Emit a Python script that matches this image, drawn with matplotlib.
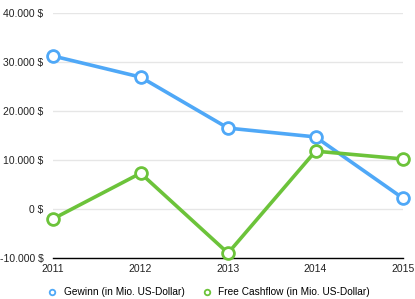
import matplotlib
matplotlib.use("Agg")
import matplotlib.pyplot as plt
from matplotlib.ticker import FuncFormatter
from matplotlib.lines import Line2D

years = [2011, 2012, 2013, 2014, 2015]
gewinn = [31200, 26900, 16500, 14700, 2200]
cashflow = [-2000, 7300, -9000, 11800, 10200]
series_names = ["Gewinn (in Mio. US-Dollar)", "Free Cashflow (in Mio. US-Dollar)"]
blue = "#4fa8f7"
green = "#6cc33a"

plt.rcParams['font.family'] = ['Liberation Sans', 'DejaVu Sans']

fig = plt.figure(figsize=(4.15, 2.99), dpi=100)
ax = fig.add_axes([0.128, 0.137, 0.843, 0.82])

for vals, col, name in [(gewinn, blue, series_names[0]), (cashflow, green, series_names[1])]:
    ax.plot(years, vals, color=col, lw=2.6, marker='o', ms=8.5, mfc='white',
            mec=col, mew=2, clip_on=False, zorder=3, label=name)

ax.set_xlim(2011, 2015)
ax.set_ylim(-10000, 40000)
ax.set_yticks(range(-10000, 40001, 10000))
ax.set_xticks(years)
ax.yaxis.set_major_formatter(FuncFormatter(lambda v, p: f"{int(v):,} $".replace(",", ".")))
ax.grid(axis='y', color='#e6e6e6', lw=1)
ax.set_axisbelow(True)
for s in ['top', 'right', 'left']:
    ax.spines[s].set_visible(False)
ax.spines['bottom'].set_color('black')
ax.spines['bottom'].set_linewidth(1)
ax.tick_params(axis='both', length=0, labelsize=7.5, colors='#222222')
ax.tick_params(axis='x', pad=4)
ax.tick_params(axis='y', pad=7)

handles = [Line2D([], [], ls='none', marker='o', ms=4, mfc='white', mec=blue, mew=1.3),
           Line2D([], [], ls='none', marker='o', ms=4, mfc='white', mec=green, mew=1.3)]
fig.legend(handles, series_names, loc='center', bbox_to_anchor=(0.502, 0.022), ncol=2,
           frameon=False, fontsize=7.3, handletextpad=0.6, columnspacing=1.7, handlelength=1,
           borderpad=0, borderaxespad=0)

fig.savefig("out.png", dpi=100)
